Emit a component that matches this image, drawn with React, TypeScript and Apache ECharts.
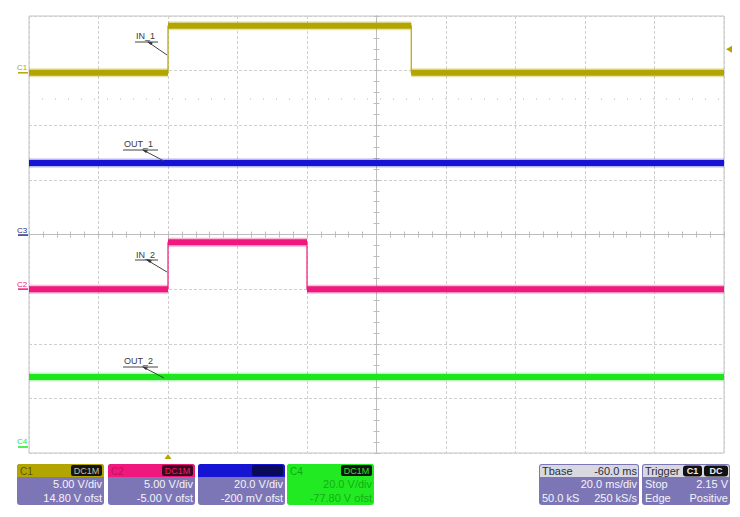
import React, { useEffect, useRef } from "react";
import * as echarts from "echarts";

// Time axis (ms relative to trigger): Tbase -60.0 ms, 20.0 ms/div, 10 div
const timeMin = -100;
const timeMax = 100;
const timeStep = 20;
// Vertical axis in divisions
const divMin = -4;
const divMax = 4;

const channelNames = ["C1", "C2", "C3", "C4"];
const channelColors = ["#b3a500", "#f0187c", "#1414d2", "#1ee61e"];
const markerColors = ["#b3a500", "#f0187c", "#2a2a86", "#1ee61e"];
const voltsPerDiv = [5, 5, 20, 20];
const offsetVolts = [14.8, -5.0, -0.2, -77.8];

// Traces (time in ms, value in volts)
const in1Times = [-100, -60, -60, 10, 10, 100];
const in1Volts = [0, 0, 4.3, 4.3, 0, 0];
const out1Times = [-100, 100];
const out1Volts = [26.4, 26.4];
const in2Times = [-100, -60, -60, -20, -20, 100];
const in2Volts = [0, 0, 4.3, 4.3, 0, 0];
const out2Times = [-100, 100];
const out2Volts = [25.6, 25.6];

const triggerTime = -60;
const triggerLevelVolts = 2.15;
const c1RefVolts = -2.4;

const traceLabels = ["IN_1", "OUT_1", "IN_2", "OUT_2"];

const boxHeaders = ["C1", "C2", "", "C4"];
const boxLine1 = ["5.00 V/div", "5.00 V/div", "20.0 V/div", "20.0 V/div"];
const boxLine2 = ["14.80 V ofst", "-5.00 V ofst", "-200 mV ofst", "-77.80 V ofst"];

const FONT = "'Liberation Sans', Arial, sans-serif";

function toDiv(v: number, ch: number) {
  return (v + offsetVolts[ch]) / voltsPerDiv[ch];
}

export default function App() {
  const ref = useRef<HTMLDivElement>(null);
  useEffect(() => {
    if (!ref.current) return;
    const chart = echarts.init(ref.current, null, { renderer: "svg" });

    const traces = [
      { ch: 0, t: in1Times, v: in1Volts },
      { ch: 2, t: out1Times, v: out1Volts },
      { ch: 1, t: in2Times, v: in2Volts },
      { ch: 3, t: out2Times, v: out2Volts },
    ];

    const series: any[] = [];
    traces.forEach((tr, i) => {
      const full = tr.t.map((t, k) => [t, toDiv(tr.v[k], tr.ch)]);
      const thick: any[] = [];
      full.forEach((p, k) => {
        thick.push(p);
        if (k < full.length - 1 && full[k + 1][0] === p[0]) thick.push([p[0], "-"]);
      });
      series.push({
        type: "line",
        name: traceLabels[i] + "_edge",
        data: full,
        showSymbol: false,
        symbol: "none",
        silent: true,
        lineStyle: { color: channelColors[tr.ch], width: 1.2 },
        z: 3,
      });
      series.push({
        type: "line",
        name: traceLabels[i] + "_halo",
        data: thick,
        showSymbol: false,
        symbol: "none",
        silent: true,
        connectNulls: false,
        lineStyle: { color: channelColors[tr.ch], width: 9, cap: "butt", opacity: 0.3 },
        z: 3,
      });
      series.push({
        type: "line",
        name: traceLabels[i],
        data: thick,
        showSymbol: false,
        symbol: "none",
        silent: true,
        connectNulls: false,
        lineStyle: { color: channelColors[tr.ch], width: 6, cap: "butt" },
        z: 4,
        markLine:
          i === 0
            ? {
                silent: true,
                symbol: "none",
                label: { show: false },
                lineStyle: { color: "#d0d0d0", type: [1, 12], width: 1.5 },
                data: [{ yAxis: toDiv(c1RefVolts, 0) }],
              }
            : undefined,
      });
    });

    const axisGray = "#bdbdbd";
    const tickCommon = {
      axisLabel: { show: false },
      axisTick: { show: true, length: 3, lineStyle: { color: axisGray } },
      minorTick: { show: true, splitNumber: 5, length: 3, lineStyle: { color: axisGray } },
    };

    chart.setOption({
      animation: false,
      backgroundColor: "#ffffff",
      grid: {
        left: 29,
        top: 16,
        width: 695,
        height: 437,
        show: true,
        borderColor: "#c4c4c4",
        borderWidth: 1,
        backgroundColor: "#ffffff",
      },
      xAxis: [
        {
          type: "value",
          min: timeMin,
          max: timeMax,
          interval: timeStep,
          position: "bottom",
          axisLine: { show: true, onZero: true, lineStyle: { color: axisGray } },
          splitLine: { show: true, lineStyle: { color: "#cfcfcf", type: [3, 2] } },
          ...tickCommon,
        },
        {
          type: "value",
          min: timeMin,
          max: timeMax,
          interval: timeStep,
          position: "top",
          axisLine: { show: true, onZero: true, lineStyle: { color: axisGray } },
          splitLine: { show: false },
          ...tickCommon,
        },
      ],
      yAxis: [
        {
          type: "value",
          min: divMin,
          max: divMax,
          interval: 1,
          position: "left",
          axisLine: { show: true, onZero: true, lineStyle: { color: axisGray } },
          splitLine: { show: true, lineStyle: { color: "#cfcfcf", type: [3, 2] } },
          ...tickCommon,
        },
        {
          type: "value",
          min: divMin,
          max: divMax,
          interval: 1,
          position: "right",
          axisLine: { show: true, onZero: true, lineStyle: { color: axisGray } },
          splitLine: { show: false },
          ...tickCommon,
        },
      ],
      series,
    });

    const px = (t: number, d: number) =>
      chart.convertToPixel({ xAxisIndex: 0, yAxisIndex: 0 }, [t, d]) as number[];

    const g: any[] = [];

    // channel ground markers at the left edge
    channelNames.forEach((name, ch) => {
      const p = px(timeMin, toDiv(0, ch));
      g.push({
        type: "text",
        style: {
          x: 17,
          y: p[1] - 1,
          text: name,
          fill: markerColors[ch],
          font: `8px ${FONT}`,
          textVerticalAlign: "bottom",
        },
        z: 10,
      });
      g.push({
        type: "line",
        shape: { x1: 18, y1: p[1], x2: 28, y2: p[1] },
        style: { stroke: markerColors[ch], lineWidth: 1.5 },
        z: 10,
      });
    });

    // trigger markers
    const tb = px(triggerTime, divMin);
    g.push({
      type: "polygon",
      shape: { points: [[tb[0] - 3.5, tb[1] + 6], [tb[0] + 3.5, tb[1] + 6], [tb[0], tb[1] + 1]] },
      style: { fill: channelColors[0] },
      z: 10,
    });
    const tl = px(timeMax, toDiv(triggerLevelVolts, 0));
    g.push({
      type: "polygon",
      shape: { points: [[tl[0] + 8, tl[1] - 3.5], [tl[0] + 8, tl[1] + 3.5], [tl[0] + 2, tl[1]]] },
      style: { fill: channelColors[0] },
      z: 10,
    });

    // trace annotations
    const ann = [
      { x: 136, y: 36, uy: 42, u1: 135, u2: 158, f: [148, 42], tip: [167, 55] },
      { x: 124, y: 144, uy: 150, u1: 123, u2: 158, f: [143, 150], tip: [164, 161] },
      { x: 136, y: 255, uy: 260, u1: 135, u2: 158, f: [147, 260], tip: [167, 272] },
      { x: 124, y: 361, uy: 367, u1: 123, u2: 158, f: [143, 367], tip: [164, 378] },
    ];
    ann.forEach((a, i) => {
      g.push({
        type: "text",
        style: { x: a.x, y: a.y, text: traceLabels[i], fill: "#3a3a3a", font: `9px ${FONT}`, textVerticalAlign: "middle" },
        z: 10,
      });
      g.push({ type: "line", shape: { x1: a.u1, y1: a.uy, x2: a.u2, y2: a.uy }, style: { stroke: "#444", lineWidth: 1 }, z: 10 });
      g.push({ type: "line", shape: { x1: a.f[0], y1: a.f[1], x2: a.tip[0], y2: a.tip[1] }, style: { stroke: "#444", lineWidth: 1 }, z: 10 });
      g.push({
        type: "polygon",
        shape: { points: [[a.f[0] - 1, a.f[1] - 0.5], [a.f[0] + 5, a.f[1] + 0.5], [a.f[0] + 3, a.f[1] + 3]] },
        style: { fill: "#333" },
        z: 10,
      });
    });

    // channel info boxes
    const purple = "#7d76b6";
    const boxX = [17, 108, 198, 287];
    const boxW = 87;
    const boxY = 464;
    const boxH = 41;
    const hdrH = 13;
    const hdrTextColors = ["#5c5400", "#c2105e", "#1414d2", "#10a810"];
    const dcBoxColors = ["#141414", "#3a0a1c", "#0a0a58", "#141414"];
    const dcTextColors = ["#c8c0a0", "#f0187c", "#0a0a58", "#1ee61e"];
    boxX.forEach((x, i) => {
      const isGreen = i === 3;
      g.push({ type: "rect", shape: { x, y: boxY, width: boxW, height: boxH, r: 3 }, style: { fill: isGreen ? "#22ea22" : purple }, z: 10 });
      g.push({ type: "rect", shape: { x, y: boxY, width: boxW, height: hdrH, r: [3, 3, 0, 0] }, style: { fill: [channelColors[0], channelColors[1], channelColors[2], "#22ea22"][i] }, z: 11 });
      g.push({ type: "rect", shape: { x: x + boxW - 33, y: boxY + 1, width: 31, height: 11, r: 2 }, style: { fill: dcBoxColors[i] }, z: 12 });
      if (i !== 2) {
        g.push({ type: "text", style: { x: x + boxW - 17.5, y: boxY + 6.8, text: "DC1M", fill: dcTextColors[i], font: `9px ${FONT}`, textAlign: "center", textVerticalAlign: "middle" }, z: 13 });
      }
      if (boxHeaders[i]) {
        g.push({ type: "text", style: { x: x + 3, y: boxY + 7, text: boxHeaders[i], fill: hdrTextColors[i], font: `10px ${FONT}`, textVerticalAlign: "middle" }, z: 13 });
      }
      const bodyColor = isGreen ? "#12b012" : "#f4f4f8";
      g.push({ type: "text", style: { x: x + boxW - 2, y: boxY + 20, text: boxLine1[i], fill: bodyColor, font: `11px ${FONT}`, textAlign: "right", textVerticalAlign: "middle" }, z: 13 });
      g.push({ type: "text", style: { x: x + boxW - 2, y: boxY + 34, text: boxLine2[i], fill: bodyColor, font: `11px ${FONT}`, textAlign: "right", textVerticalAlign: "middle" }, z: 13 });
    });

    // timebase and trigger boxes
    const infoBoxes = [
      { x: 539, w: 100, hl: "Tbase", hr: "-60.0 ms", rows: [["", "20.0 ms/div"], ["50.0 kS", "250 kS/s"]] },
      { x: 642, w: 88, hl: "Trigger", hr: "", rows: [["Stop", "2.15 V"], ["Edge", "Positive"]] },
    ];
    infoBoxes.forEach((b, i) => {
      g.push({ type: "rect", shape: { x: b.x, y: boxY, width: b.w, height: boxH, r: 3 }, style: { fill: purple }, z: 10 });
      g.push({ type: "rect", shape: { x: b.x + 1, y: boxY + 1, width: b.w - 2, height: hdrH - 1, r: [2, 2, 0, 0] }, style: { fill: "#d8d8e0" }, z: 11 });
      g.push({ type: "text", style: { x: b.x + 3, y: boxY + 7, text: b.hl, fill: "#2c2c3c", font: `11px ${FONT}`, textVerticalAlign: "middle" }, z: 13 });
      if (b.hr) {
        g.push({ type: "text", style: { x: b.x + b.w - 2, y: boxY + 7, text: b.hr, fill: "#2c2c3c", font: `11px ${FONT}`, textAlign: "right", textVerticalAlign: "middle" }, z: 13 });
      }
      if (i === 1) {
        const tags = [{ x: b.x + 41, w: 19, t: "C1" }, { x: b.x + 62, w: 24, t: "DC" }];
        tags.forEach((tg) => {
          g.push({ type: "rect", shape: { x: tg.x, y: boxY + 1.5, width: tg.w, height: 11, r: 3 }, style: { fill: "#111" }, z: 12 });
          g.push({ type: "text", style: { x: tg.x + tg.w / 2, y: boxY + 7, text: tg.t, fill: "#f0f0f0", font: `bold 9px ${FONT}`, textAlign: "center", textVerticalAlign: "middle" }, z: 13 });
        });
      }
      b.rows.forEach((r, k) => {
        const yy = boxY + 20 + k * 14;
        if (r[0]) g.push({ type: "text", style: { x: b.x + 3, y: yy, text: r[0], fill: "#f4f4f8", font: `11px ${FONT}`, textVerticalAlign: "middle" }, z: 13 });
        if (r[1]) g.push({ type: "text", style: { x: b.x + b.w - 2, y: yy, text: r[1], fill: "#f4f4f8", font: `11px ${FONT}`, textAlign: "right", textVerticalAlign: "middle" }, z: 13 });
      });
    });

    chart.setOption({ graphic: g });

    return () => chart.dispose();
  }, []);

  return (
    <div
      ref={ref}
      style={{ position: "absolute", left: 0, top: 0, width: 740, height: 517, background: "#ffffff" }}
    />
  );
}
